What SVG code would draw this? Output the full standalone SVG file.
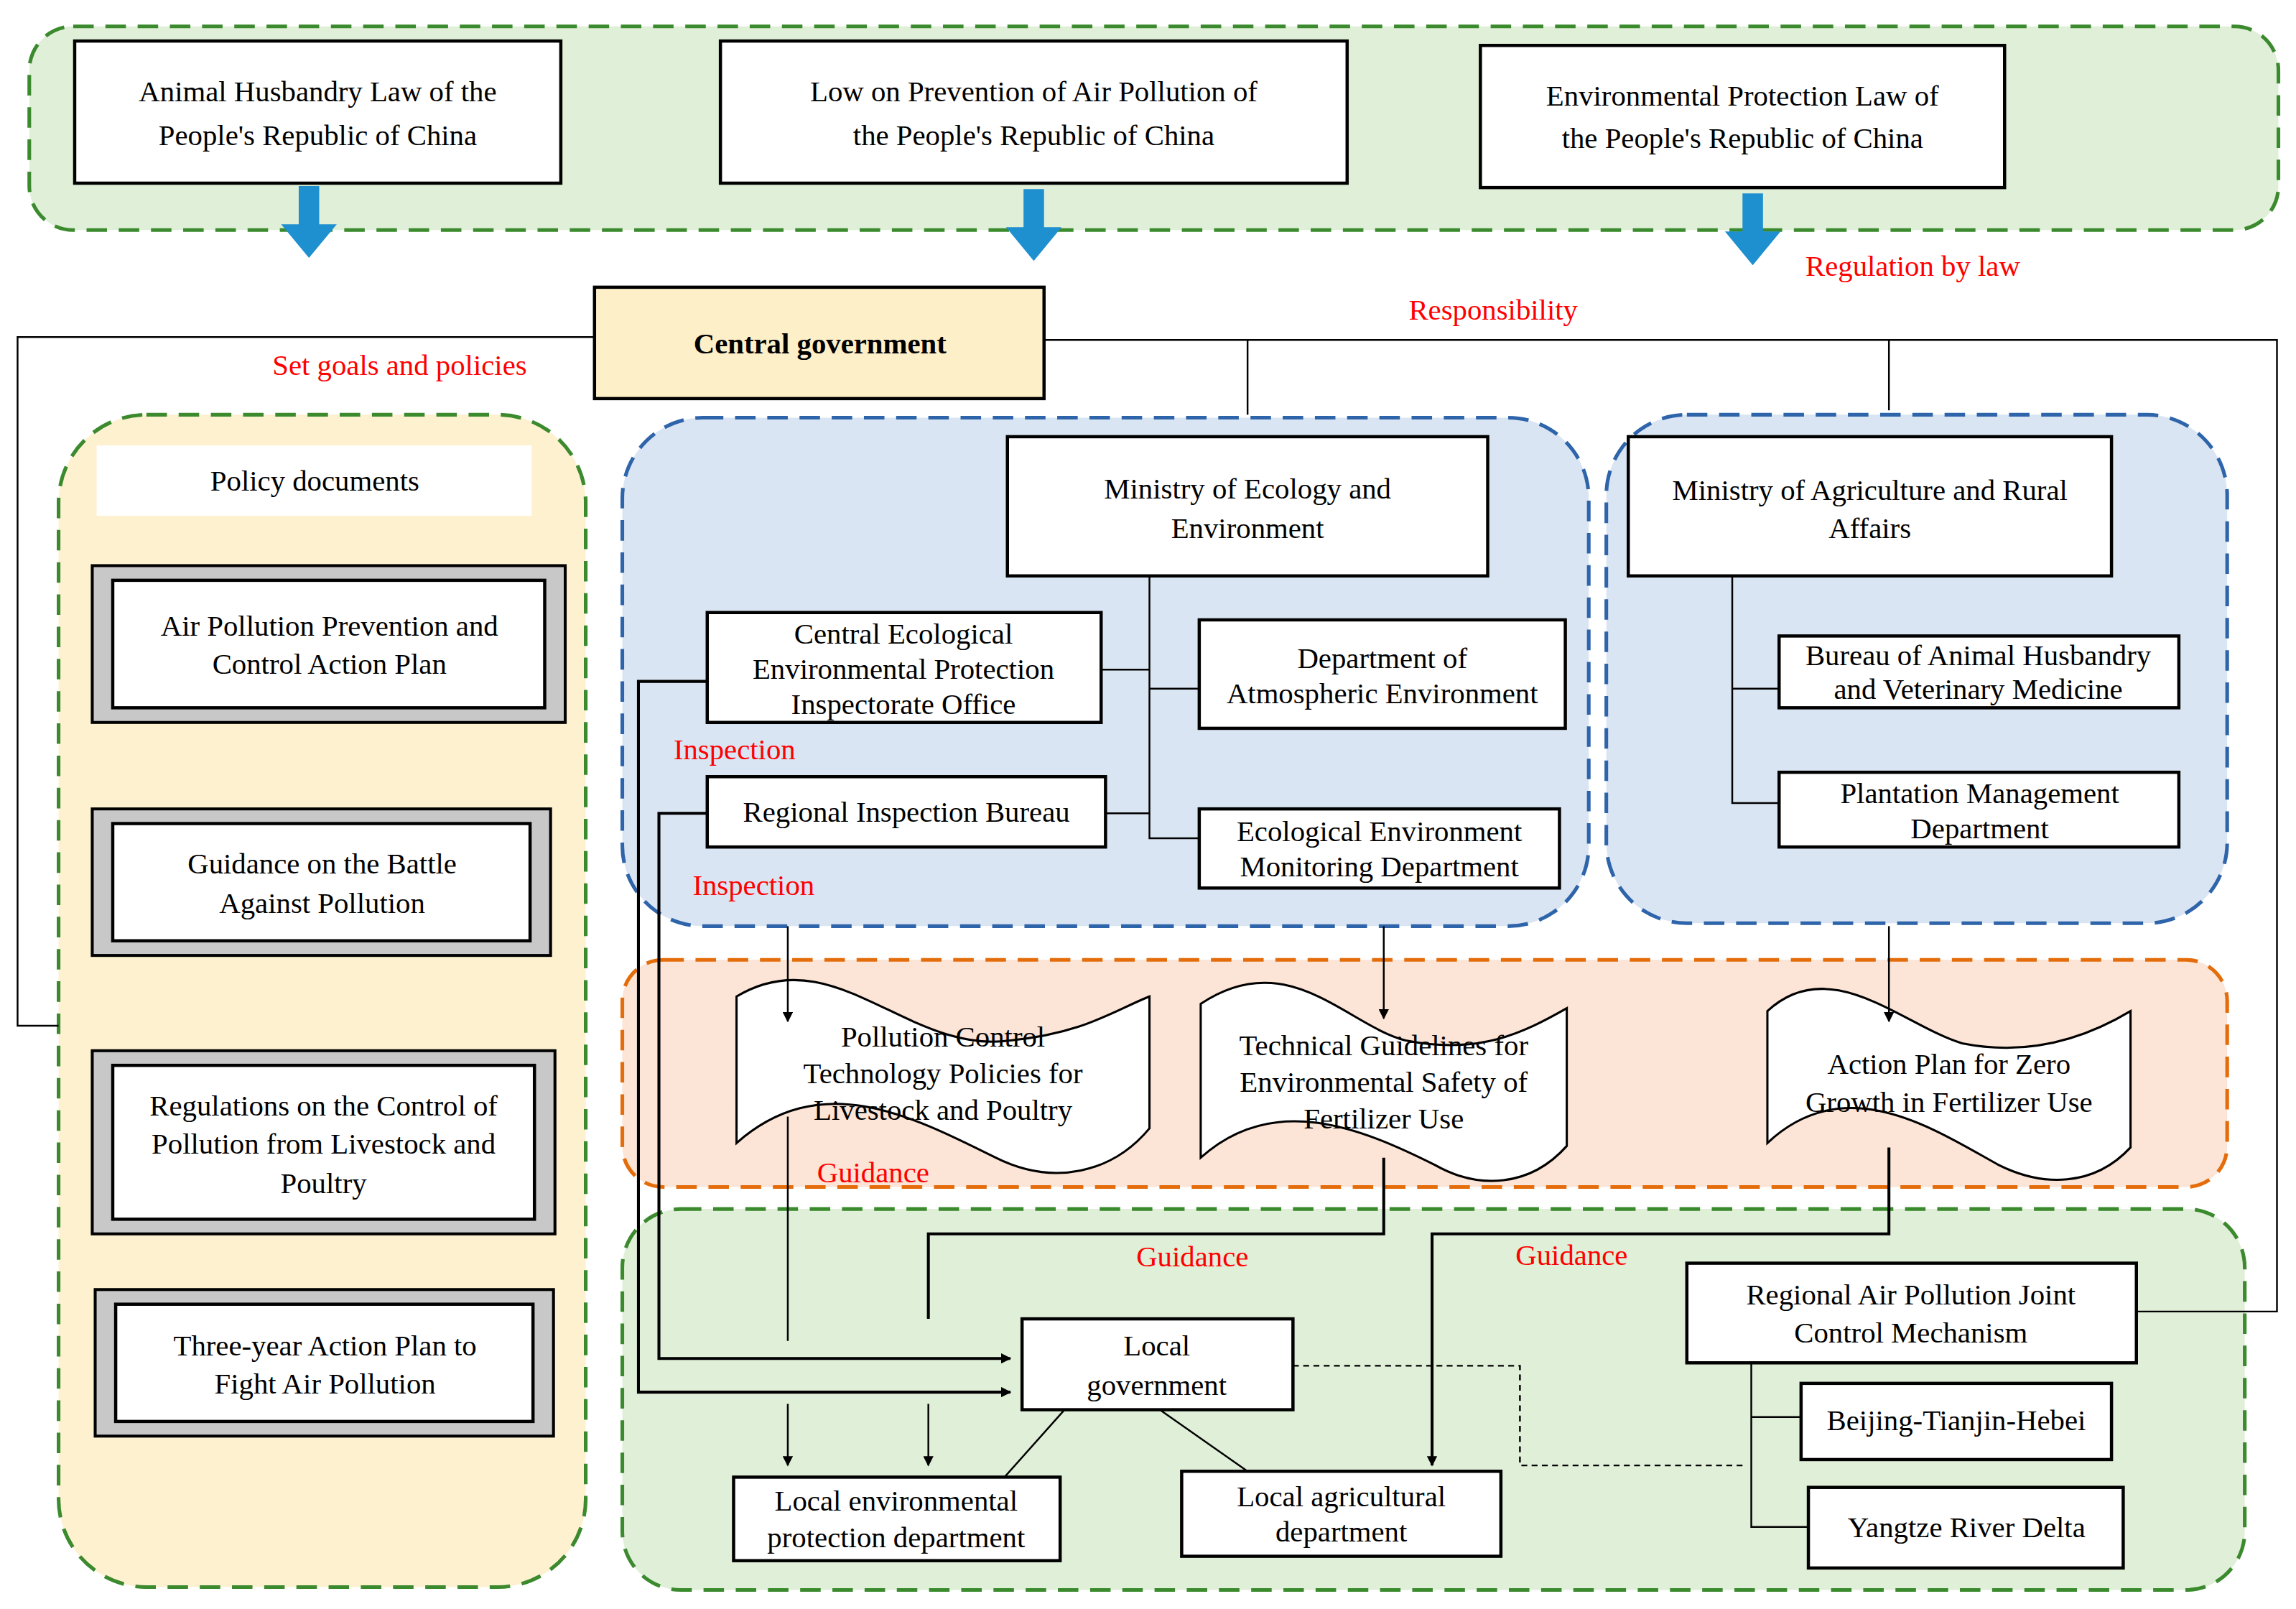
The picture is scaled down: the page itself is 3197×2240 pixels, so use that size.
<svg xmlns="http://www.w3.org/2000/svg" width="3197" height="2240" viewBox="0 0 3197 2240">
<style>
text{font-family:"Liberation Serif","DejaVu Serif","Times New Roman",serif;font-size:20px;fill:#000;text-anchor:middle}
.r{fill:#ff0000;text-anchor:start}
.box{fill:#fff;stroke:#000;stroke-width:2.2}
.ln{fill:none;stroke:#000;stroke-width:1.2}
.lnb{fill:none;stroke:#000;stroke-width:2}
.grn{fill:#e0efd8;stroke:#3b8a2e;stroke-width:2.5;stroke-dasharray:14 8}
.blu{fill:#dae5f3;stroke:#2e64aa;stroke-width:2.5;stroke-dasharray:14 8}
.org{fill:#fce4d6;stroke:#e46c0a;stroke-width:2.5;stroke-dasharray:14 8}
.yel{fill:#fdf1d0;stroke:#3b8a2e;stroke-width:2.5;stroke-dasharray:14 8}
.doc{fill:#fff;stroke:#000;stroke-width:1.5}
.bev{fill:#c8c8c8;stroke:#000;stroke-width:2}
.barr{fill:#1e90d0}
</style>
<defs>
<marker id="ah" viewBox="0 0 10 10" refX="9" refY="5" markerWidth="7" markerHeight="7" markerUnits="userSpaceOnUse" orient="auto"><path d="M0,0 L10,5 L0,10 Z" fill="#000"/></marker>
<marker id="ahs" viewBox="0 0 10 10" refX="9" refY="5" markerWidth="10" markerHeight="10" markerUnits="userSpaceOnUse" orient="auto"><path d="M0,0 L10,5 L0,10 Z" fill="#000"/></marker>
</defs>
<rect width="3197" height="2240" fill="#fff"/>
<g transform="scale(2.0389,2.0401)">
<g id="panels">
<rect class="grn" x="20" y="18" width="1536" height="139" rx="30"/>
<rect class="yel" x="40" y="283" width="360" height="800" rx="60"/>
<rect class="blu" x="425" y="285" width="660" height="347" rx="55"/>
<rect class="blu" x="1097" y="283" width="424" height="347" rx="55"/>
<rect class="org" x="425" y="655" width="1096" height="155" rx="28"/>
<rect class="grn" x="425" y="825" width="1108" height="260" rx="40"/>
</g>
<g id="law1"><rect class="box" x="51" y="28" width="332" height="97"/><text x="217" y="69">Animal Husbandry Law of the</text><text x="217" y="99">People's Republic of China</text></g>
<g id="law2"><rect class="box" x="492" y="28" width="428" height="97"/><text x="706" y="69">Low on Prevention of Air Pollution  of</text><text x="706" y="99">the People's Republic of China</text></g>
<g id="law3"><rect class="box" x="1011" y="31" width="358" height="97"/><text x="1190" y="72">Environmental Protection Law of</text><text x="1190" y="101">the People's Republic of China</text></g>
<g id="central"><rect x="406" y="196" width="307" height="76" fill="#fdefc8" stroke="#000" stroke-width="2.2"/><text x="560" y="241" font-weight="bold" font-size="22">Central government</text></g>
<g id="policy"><rect x="66" y="304" width="297" height="48" fill="#fff"/><text x="215" y="335">Policy documents</text></g>
<g id="p1"><rect class="bev" x="63" y="386" width="323" height="107"/><rect class="box" x="77" y="396" width="295" height="87"/><text x="225" y="434">Air Pollution Prevention and</text><text x="225" y="460">Control Action Plan</text></g>
<g id="p2"><rect class="bev" x="63" y="552" width="313" height="100"/><rect class="box" x="77" y="562" width="285" height="80"/><text x="220" y="596">Guidance on the Battle</text><text x="220" y="623">Against Pollution</text></g>
<g id="p3"><rect class="bev" x="63" y="717" width="316" height="125"/><rect class="box" x="77" y="727" width="288" height="105"/><text x="221" y="761">Regulations on the Control of</text><text x="221" y="787">Pollution from Livestock and</text><text x="221" y="814">Poultry</text></g>
<g id="p4"><rect class="bev" x="65" y="880" width="313" height="100"/><rect class="box" x="79" y="890" width="285" height="80"/><text x="222" y="925">Three-year Action Plan to</text><text x="222" y="951">Fight Air Pollution</text></g>
<g id="mee"><rect class="box" x="688" y="298" width="328" height="95"/><text x="852" y="340">Ministry of Ecology and</text><text x="852" y="367">Environment</text></g>
<g id="cee"><rect class="box" x="483" y="418" width="269" height="75"/><text x="617" y="439" font-size="19">Central Ecological</text><text x="617" y="463" font-size="19">Environmental Protection</text><text x="617" y="487" font-size="19">Inspectorate Office</text></g>
<g id="dae"><rect class="box" x="819" y="423" width="250" height="74"/><text x="944" y="456" font-size="19">Department of</text><text x="944" y="480" font-size="19">Atmospheric Environment</text></g>
<g id="rib"><rect class="box" x="483" y="530" width="272" height="48"/><text x="619" y="561" font-size="19">Regional Inspection Bureau</text></g>
<g id="eem"><rect class="box" x="819" y="552" width="246" height="54"/><text x="942" y="574" font-size="19">Ecological Environment</text><text x="942" y="598" font-size="19">Monitoring Department</text></g>
<g id="mara"><rect class="box" x="1112" y="298" width="330" height="95"/><text x="1277" y="341">Ministry of Agriculture and Rural</text><text x="1277" y="367">Affairs</text></g>
<g id="bah"><rect class="box" x="1215" y="434" width="273" height="49"/><text x="1351" y="454" font-size="19">Bureau of Animal Husbandry</text><text x="1351" y="477" font-size="19">and Veterinary Medicine</text></g>
<g id="pmd"><rect class="box" x="1215" y="527" width="273" height="51"/><text x="1352" y="548" font-size="19">Plantation Management</text><text x="1352" y="572" font-size="19">Department</text></g>
<g id="d1"><path class="doc" d="M503,680 C570,640 620,720 690,710 C740,705 760,690 785,680 L785,770 C760,800 720,810 680,790 C620,760 560,730 503,780 Z"/><text x="644" y="714">Pollution Control</text><text x="644" y="739">Technology Policies for</text><text x="644" y="764">Livestock and Poultry</text></g>
<g id="d2"><path class="doc" d="M820,685 C880,645 920,700 960,710 C1010,720 1040,705 1070,688 L1070,782 C1045,810 1010,812 980,795 C930,770 870,745 820,790 Z"/><text x="945" y="720">Technical Guidelines for</text><text x="945" y="745">Environmental Safety of</text><text x="945" y="770">Fertilizer Use</text></g>
<g id="d3"><path class="doc" d="M1207,690 C1250,650 1300,700 1340,712 C1390,722 1430,705 1455,690 L1455,783 C1430,810 1395,810 1365,795 C1320,770 1260,730 1207,780 Z"/><text x="1331" y="733">Action Plan for Zero</text><text x="1331" y="759">Growth in Fertilizer Use</text></g>
<g id="lg"><rect class="box" x="698" y="900" width="185" height="62"/><text x="790" y="925">Local</text><text x="790" y="952">government</text></g>
<g id="lep"><rect class="box" x="501" y="1008" width="223" height="57"/><text x="612" y="1031" font-size="19">Local environmental</text><text x="612" y="1056" font-size="19">protection department</text></g>
<g id="lad"><rect class="box" x="807" y="1004" width="218" height="58"/><text x="916" y="1028" font-size="19">Local agricultural</text><text x="916" y="1052" font-size="19">department</text></g>
<g id="rap"><rect class="box" x="1152" y="862" width="307" height="68"/><text x="1305" y="890">Regional Air Pollution Joint</text><text x="1305" y="916">Control Mechanism</text></g>
<g id="bth"><rect class="box" x="1230" y="944" width="212" height="52"/><text x="1336" y="976" font-size="19">Beijing-Tianjin-Hebei</text></g>
<g id="yrd"><rect class="box" x="1235" y="1015" width="215" height="55"/><text x="1343" y="1049" font-size="19">Yangtze River Delta</text></g>
<g id="connectors">
<path class="ln" d="M406,230 H12 V700 H40"/>
<path class="ln" d="M713,232 H1555 V895 H1459"/>
<path class="ln" d="M852,232 V283"/>
<path class="ln" d="M1290,232 V280"/>
<path class="ln" d="M785,393 V572 H819 M752,457 H785 M785,470 H819 M755,555 H785"/>
<path class="ln" d="M1183,393 V548 H1215 M1183,470 H1215"/>
<path class="ln" d="M538,632 V697" marker-end="url(#ah)"/>
<path class="ln" d="M945,632 V695" marker-end="url(#ah)"/>
<path class="ln" d="M1290,632 V697" marker-end="url(#ah)"/>
<path class="ln" d="M538,762 V915"/>
<path class="lnb" d="M945,790 V842 H634 V900"/>
<path class="lnb" d="M1290,783 V842 H978 V1000" marker-end="url(#ah)"/>
<path class="lnb" d="M483,465 H436 V950 H690" marker-end="url(#ah)"/>
<path class="lnb" d="M483,555 H450 V927 H690" marker-end="url(#ah)"/>
<path class="ln" d="M538,958 V1000" marker-end="url(#ah)"/>
<path class="ln" d="M634,958 V1000" marker-end="url(#ah)"/>
<path class="ln" d="M727,962 L686,1008 M792,962 L852,1004"/>
<path class="ln" d="M883,932 H1038 V1000 H1190" stroke-dasharray="4 3" stroke="#555"/>
<path class="ln" d="M1196,930 V1042 H1235"/>
<path class="ln" d="M1196,967 H1230" stroke="#777"/>
<g class="barr">
<path d="M204,127 H218 V153 H230 L211,176 L192,153 H204 Z"/>
<path d="M699,129 H713 V155 H725 L706,178 L687,155 H699 Z"/>
<path d="M1190,132 H1204 V158 H1216 L1197,181 L1178,158 H1190 Z"/>
</g>
</g>
<g id="labels">
<text class="r" x="1233" y="188">Regulation by law</text>
<text class="r" x="962" y="218">Responsibility</text>
<text class="r" x="186" y="256">Set goals and policies</text>
<text class="r" x="460" y="518">Inspection</text>
<text class="r" x="473" y="611">Inspection</text>
<text class="r" x="558" y="807">Guidance</text>
<text class="r" x="776" y="864">Guidance</text>
<text class="r" x="1035" y="863">Guidance</text>
</g>
</g>
</svg>
